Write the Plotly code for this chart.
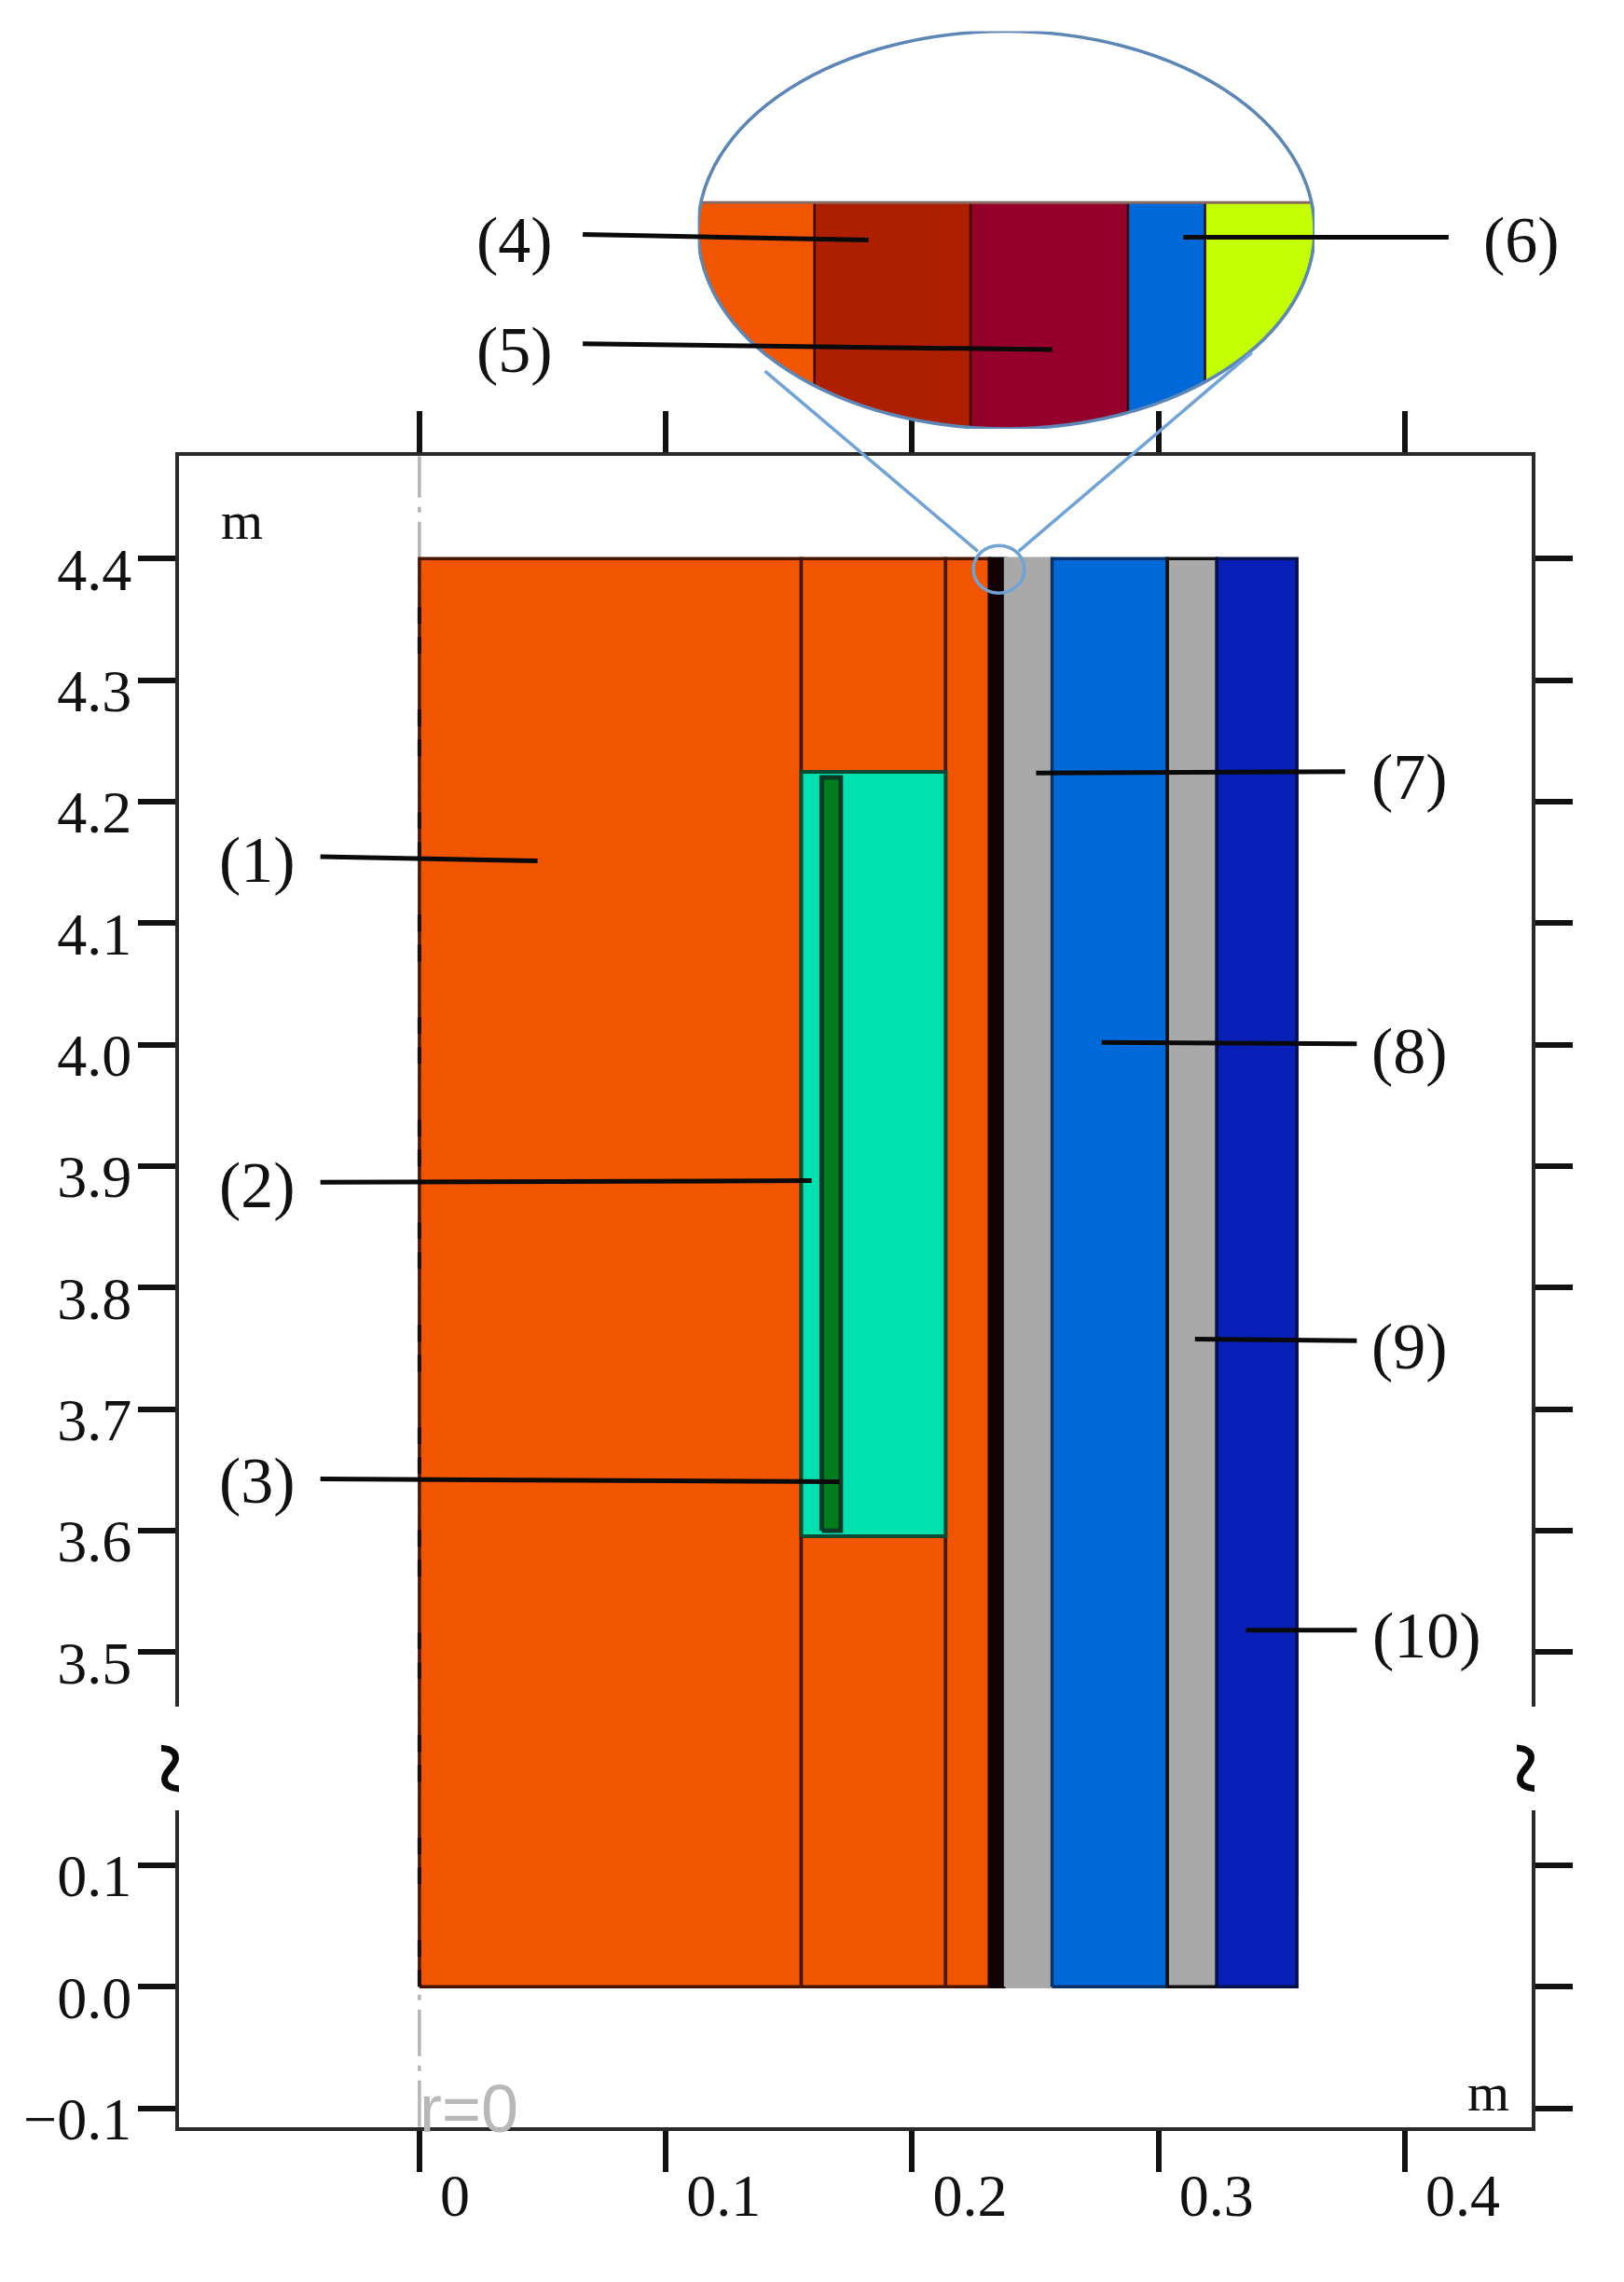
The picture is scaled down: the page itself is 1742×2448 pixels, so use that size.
import numpy as np
import plotly.graph_objects as go


# positions below were read on a scaled view of the reference, these two
# turn them back into page fractions (fitted on zoomed frame corners)
def px(v):
    return (1.5636 * v - 1.9) / 1742


def py(v):
    return 1 - (1.5625 * v - 0.5) / 2448


# radial layers, metres
layer_edges = [0, 0.155, 0.2136, 0.2314, 0.2379, 0.2568, 0.3036, 0.3237, 0.3562]
layer_colors = ["#F25500", "#F25500", "#F25500", "#120404", "#A9A9A9", "#0069D9", "#A9A9A9", "#0820B8"]
layer_lines = ["#4A1500", "#4A1500", "#4A1500", "#120404", "#A9A9A9", "#06306A", "#111111", "#06104A"]
height_top = 4.4
height_bottom = 0.0

# pool region and inner bar
pool_x = [0.155, 0.2136]
pool_y = [3.5955, 4.2246]
bar_x = [0.1633, 0.171]
bar_y = [3.60, 4.22]

x_ticks = [0, 0.1, 0.2, 0.3, 0.4]
x_labels = ["0\u00a0\u00a0\u00a0", "0.1", "0.2", "0.3", "0.4"]
y_ticks = [-0.1, 0.0, 0.1, 3.5, 3.6, 3.7, 3.8, 3.9, 4.0, 4.1, 4.2, 4.3, 4.4]
y_labels = ["\u22120.1", "0.0", "0.1", "3.5", "3.6", "3.7", "3.8", "3.9", "4.0", "4.1", "4.2", "4.3", "4.4"]

# inset bands, ellipse is the unit circle on its own axes
inset_edges = [-1.0, -0.622, -0.116, 0.395, 0.645, 1.0]
inset_colors = ["#F25500", "#AE1F00", "#94002A", "#0069D9", "#C3FF00"]
inset_cut = 0.138

# broken axis: the part above 3.5 is moved down
BREAK_OFFSET = 3.2247
Y_RANGE = [-0.1156, 1.2597]


def to_plot(v):
    v = np.asarray(v, dtype=float)
    return np.where(v >= 3.0, v - BREAK_OFFSET, v)


def box_trace(x0, x1, y0, y1, fill, line, width=3.5):
    yy = to_plot([y0, y0, y1, y1, y0])
    return go.Scatter(
        x=[x0, x1, x1, x0, x0], y=yy, mode="lines", fill="toself",
        fillcolor=fill, line=dict(color=line, width=width),
        hoverinfo="skip", showlegend=False,
    )


fig = go.Figure()

# r=0 axis, grey dash-dot over the whole frame
fig.add_trace(go.Scatter(
    x=[0, 0], y=Y_RANGE, mode="lines",
    line=dict(color="#B5B5B5", width=3.5, dash="50px,10px,6px,10px"),
    hoverinfo="skip", showlegend=False,
))

for i, col in enumerate(layer_colors):
    fig.add_trace(box_trace(layer_edges[i], layer_edges[i + 1], height_bottom, height_top, col, layer_lines[i]))

fig.add_trace(box_trace(pool_x[0], pool_x[1], pool_y[0], pool_y[1], "#00E0B0", "#0C4A34", 4))
fig.add_trace(box_trace(bar_x[0], bar_x[1], bar_y[0], bar_y[1], "#007E1E", "#0C3A24", 5))

# dark dashes on the r=0 edge of the orange
fig.add_trace(go.Scatter(
    x=[0, 0], y=to_plot([height_bottom, height_top]), mode="lines",
    line=dict(color="#1E0C04", width=4, dash="18px,14px,18px,60px"),
    hoverinfo="skip", showlegend=False,
))

# inset
for i, col in enumerate(inset_colors):
    xs = np.linspace(inset_edges[i], inset_edges[i + 1], 60)
    low = -np.sqrt(1 - xs ** 2)
    top = np.minimum(inset_cut, np.sqrt(1 - xs ** 2))
    fig.add_trace(go.Scatter(
        x=np.concatenate([xs, xs[::-1]]), y=np.concatenate([low, top[::-1]]),
        xaxis="x2", yaxis="y2", mode="lines", fill="toself", fillcolor=col,
        line=dict(color="rgba(0,0,0,0)", width=0), hoverinfo="skip", showlegend=False,
    ))
for edge in inset_edges[1:-1]:
    fig.add_trace(go.Scatter(
        x=[edge, edge], y=[float(-np.sqrt(1 - edge ** 2)), inset_cut],
        xaxis="x2", yaxis="y2", mode="lines", line=dict(color="#3A0A08", width=2.5),
        hoverinfo="skip", showlegend=False,
    ))
fig.add_trace(go.Scatter(
    x=[-0.99, 0.99], y=[inset_cut, inset_cut], xaxis="x2", yaxis="y2", mode="lines",
    line=dict(color="#8A6A60", width=3), hoverinfo="skip", showlegend=False,
))

shapes = [
    # covers the frame at the axis break
    dict(type="rect", xref="paper", yref="paper", x0=px(112), x1=px(136), y0=py(1257), y1=py(1185),
         fillcolor="white", line_width=0, layer="above"),
    dict(type="rect", xref="paper", yref="paper", x0=px(1040), x1=px(1064), y0=py(1257), y1=py(1185),
         fillcolor="white", line_width=0, layer="above"),
    # ellipse outlines
    dict(type="circle", xref="x2", yref="y2", x0=-1, x1=1, y0=-1, y1=1,
         line=dict(color="#5C86B5", width=3.5), layer="above"),
    dict(type="circle", xref="paper", yref="paper", x0=px(669), x1=px(704), y0=py(412), y1=py(379),
         line=dict(color="#6FA3D8", width=3.5), layer="above"),
    # connectors
    dict(type="line", xref="paper", yref="paper", x0=px(526), y0=py(258), x1=px(672), y1=py(383),
         line=dict(color="#6FA3D8", width=3.5), layer="above"),
    dict(type="line", xref="paper", yref="paper", x0=px(860), y0=py(245), x1=px(700), y1=py(383),
         line=dict(color="#6FA3D8", width=3.5), layer="above"),
]

# leader lines and their labels
callouts = [
    ("(1)", 178, 597, 221, 595, 370, 598),
    ("(2)", 178, 823, 221, 821, 558, 820),
    ("(3)", 178, 1028, 221, 1027, 577, 1029),
    ("(4)", 354, 167, 401, 163, 597, 167),
    ("(5)", 354, 243, 401, 239, 723, 243),
    ("(6)", 1045, 167, 995, 165, 813, 165),
    ("(7)", 968, 540, 924, 536, 712, 537),
    ("(8)", 968, 730, 932, 725, 757, 724),
    ("(9)", 968, 935, 932, 931, 821, 930),
    ("(10)", 980, 1136, 932, 1132, 856, 1132),
]


def note(text, x, y, size, color="#111111", family="Liberation Serif", angle=0):
    return dict(text=text, xref="paper", yref="paper", x=px(x), y=py(y), showarrow=False,
                xanchor="center", yanchor="middle", textangle=angle,
                font=dict(family=family, size=size, color=color))


annotations = []
for text, tx, ty, x0, y0, x1, y1 in callouts:
    shapes.append(dict(type="line", xref="paper", yref="paper", x0=px(x0), y0=py(y0), x1=px(x1), y1=py(y1),
                       line=dict(color="#0A0A0A", width=5), layer="above"))
    annotations.append(note(text, tx, ty, 70))

annotations += [
    note("m", 167, 362, 58),
    note("m", 1022, 1453, 58),
    note("r=0", 323, 1464, 72, color="#B8B8B8", family="Liberation Sans"),
    note("<b>~</b>", 119, 1228, 100, color="#0A0A0A", angle=90),
    note("<b>~</b>", 1049, 1228, 100, color="#0A0A0A", angle=90),
]

fig.update_layout(
    width=1742,
    height=2448,
    margin=dict(l=0, r=0, t=0, b=0),
    paper_bgcolor="white",
    plot_bgcolor="white",
    showlegend=False,
    shapes=shapes,
    annotations=annotations,
    xaxis=dict(
        domain=[px(124), px(1052)], range=[-0.0976, 0.4515],
        tickmode="array", tickvals=x_ticks, ticktext=x_labels,
        ticks="outside", ticklen=44, tickwidth=6, tickcolor="#111111",
        showgrid=False, zeroline=False, showline=True, linewidth=4, linecolor="#2A2A2A", mirror="ticks",
        ticklabelshift=62, ticklabelstandoff=-30,
        tickfont=dict(family="Liberation Serif", size=64, color="#111111"),
    ),
    yaxis=dict(
        domain=[py(1477), py(317)], range=Y_RANGE,
        tickmode="array", tickvals=to_plot(y_ticks).tolist(), ticktext=y_labels,
        ticks="outside", ticklen=40, tickwidth=6, tickcolor="#111111",
        showgrid=False, zeroline=False, showline=True, linewidth=4, linecolor="#2A2A2A", mirror="ticks",
        ticklabelshift=11, ticklabelstandoff=-6,
        tickfont=dict(family="Liberation Serif", size=64, color="#111111"),
    ),
    xaxis2=dict(domain=[px(480), px(903)], range=[-1, 1], visible=False, anchor="y2"),
    yaxis2=dict(domain=[py(298), py(22)], range=[-1, 1], visible=False, anchor="x2"),
)

# the page keeps the browser's body margin otherwise
fig.write_html(
    "out.html",
    config={"displayModeBar": False},
    post_script="document.body.style.margin = '0'; document.body.style.height = '2448px'; "
                "document.documentElement.style.overflow = 'hidden';",
)
